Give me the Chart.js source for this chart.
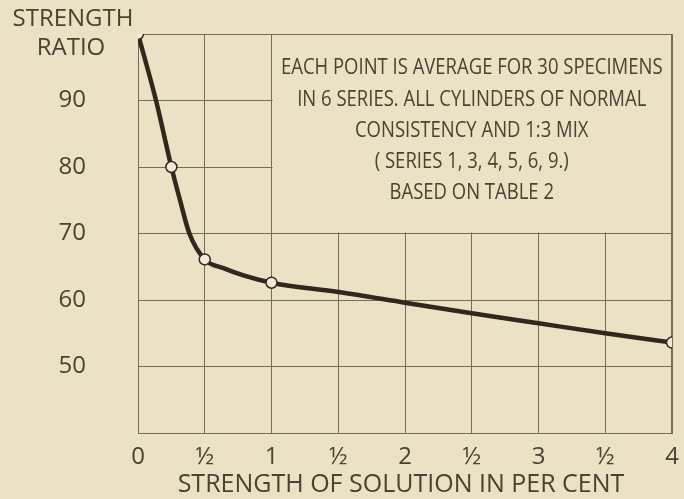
<!DOCTYPE html>
<html>
<head>
<meta charset="utf-8">
<script src="https://cdn.jsdelivr.net/npm/chart.js@4"></script>
<style>
  html, body { margin: 0; padding: 0; background: #ebe1c5; }
  canvas { display: block; }
</style>
</head>
<body>
<canvas id="chart" width="684" height="499"></canvas>
<script>
// observed points (circles)
const pointStrength = [0, 0.25, 0.5, 1, 4];
const pointRatio = [100, 80, 66.1, 62.6, 53.6];

// curve
const curveStrength = [0, 0.135, 0.25, 0.315, 0.385, 0.5, 0.64, 0.79, 1, 1.5, 2, 2.5, 3, 3.5, 4];
const curveRatio = [100, 90, 80, 75, 70, 66.1, 64.8, 63.7, 62.6, 61.2, 59.6, 58.0, 56.5, 55.0, 53.6];

const xTickValues = [0, 0.5, 1, 1.5, 2, 2.5, 3, 3.5, 4];
const xTickLabels = ["0", "½", "1", "½", "2", "½", "3", "½", "4"];
const yTickValues = [40, 50, 60, 70, 80, 90, 100];
const yTickLabels = ["", "50", "60", "70", "80", "90", ""];

const noteLines = [
  "EACH POINT IS AVERAGE FOR 30 SPECIMENS",
  "IN 6 SERIES. ALL CYLINDERS OF NORMAL",
  "CONSISTENCY AND 1:3 MIX",
  "( SERIES 1, 3, 4, 5, 6, 9.)",
  "BASED ON TABLE 2"
];

const ink = "#4a4232";
const gridColor = "#756b58";
const paper = "#ebe1c5";

const toXY = (xs, ys) => xs.map((x, i) => ({ x: x, y: ys[i] }));

const textPlugin = {
  id: "texts",
  beforeDatasetsDraw(chart) {
    // blank out the grid behind the note box, keep its frame
    const ctx = chart.ctx;
    const xs = chart.scales.x, ys = chart.scales.y;
    const area = chart.chartArea;
    const left = xs.getPixelForValue(1);
    const right = xs.getPixelForValue(4);
    const bottom = ys.getPixelForValue(70);
    ctx.save();
    ctx.fillStyle = paper;
    ctx.fillRect(left + 1, area.top + 1, right - left - 2, bottom - area.top - 2);
    ctx.strokeStyle = gridColor;
    ctx.lineWidth = 1;
    ctx.beginPath();
    ctx.moveTo(Math.round(right) - 0.5, area.top);
    ctx.lineTo(Math.round(right) - 0.5, area.bottom);
    ctx.moveTo(area.left, Math.round(area.top) + 0.5);
    ctx.lineTo(right, Math.round(area.top) + 0.5);
    ctx.stroke();
    ctx.restore();
  },
  afterDraw(chart) {
    const ctx = chart.ctx;
    const xs = chart.scales.x;
    const area = chart.chartArea;
    ctx.save();
    ctx.fillStyle = ink;
    ctx.textAlign = "center";
    ctx.textBaseline = "middle";

    // y axis title
    ctx.font = "24px 'Open Sans'";
    ctx.fillText("STRENGTH", 73, 19);
    ctx.fillText("RATIO", 71, 48);

    // x axis title
    ctx.font = "25px 'Open Sans'";
    ctx.fillText("STRENGTH OF SOLUTION IN PER CENT", (area.left + area.right) / 2 - 4, 485);

    // note
    const cx = (xs.getPixelForValue(1) + area.right) / 2;
    const ys0 = [68, 100, 131, 162, 193];
    ctx.font = "500 21px 'Open Sans'";
    noteLines.forEach((line, i) => {
      ctx.save();
      ctx.translate(cx, ys0[i]);
      ctx.scale(0.88, 1);
      ctx.fillText(line, 0, 0);
      ctx.restore();
    });
    ctx.restore();
  }
};

new Chart(document.getElementById("chart"), {
  type: "scatter",
  data: {
    datasets: [
      {
        data: toXY(pointStrength, pointRatio),
        showLine: false,
        pointRadius: 5.5,
        pointBackgroundColor: "#f1ead6",
        pointBorderColor: "#2e281d",
        pointBorderWidth: 1.5,
        order: 0
      },
      {
        data: toXY(curveStrength, curveRatio),
        showLine: true,
        borderColor: "#2e281d",
        borderWidth: 4.5,
        pointRadius: 0,
        cubicInterpolationMode: "monotone",
        order: 1
      }
    ]
  },
  options: {
    responsive: false,
    devicePixelRatio: 1,
    animation: false,
    layout: { padding: { top: 34, right: 12, left: 0, bottom: 0 } },
    plugins: {
      legend: { display: false },
      tooltip: { enabled: false }
    },
    scales: {
      x: {
        type: "linear",
        min: 0,
        max: 4,
        afterFit: (scale) => {
          scale.height = 66;
          scale.paddingLeft = 0;
          scale.paddingRight = 0;
        },
        afterBuildTicks: (scale) => { scale.ticks = xTickValues.map(v => ({ value: v })); },
        ticks: {
          color: ink,
          font: { family: "'Open Sans'", size: 24 },
          padding: 10,
          maxRotation: 0,
          callback: (v) => xTickLabels[xTickValues.indexOf(v)]
        },
        grid: { color: gridColor, lineWidth: 1, drawTicks: false },
        border: { color: gridColor, width: 1 }
      },
      y: {
        type: "linear",
        min: 40,
        max: 100,
        afterFit: (scale) => {
          scale.width = 138;
          scale.paddingTop = 0;
          scale.paddingBottom = 0;
        },
        afterBuildTicks: (scale) => { scale.ticks = yTickValues.map(v => ({ value: v })); },
        ticks: {
          color: ink,
          font: { family: "'Open Sans'", size: 24 },
          padding: 52,
          callback: (v) => yTickLabels[yTickValues.indexOf(v)]
        },
        grid: { color: gridColor, lineWidth: 1, drawTicks: false },
        border: { color: gridColor, width: 1 }
      }
    }
  },
  plugins: [textPlugin]
});
</script>
</body>
</html>
